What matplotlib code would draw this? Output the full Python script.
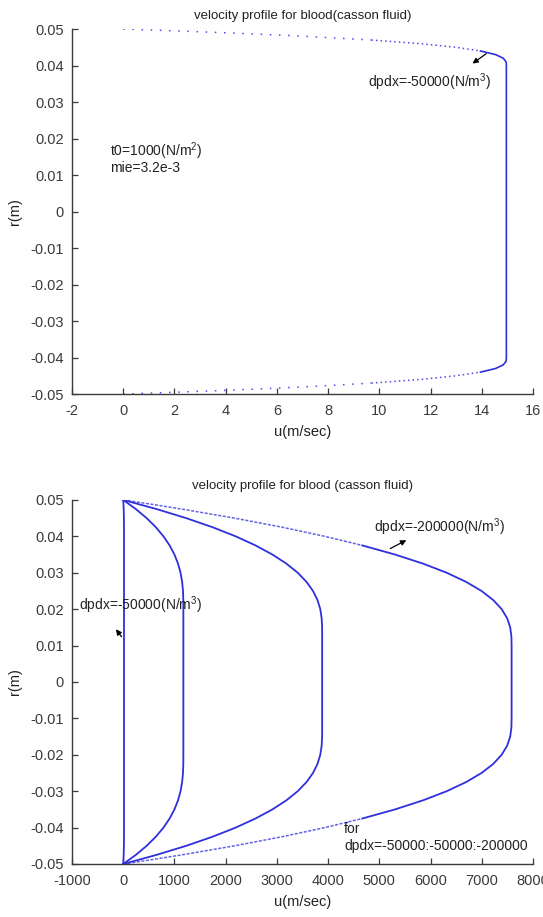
import matplotlib
matplotlib.use('Agg')
import matplotlib.pyplot as plt
import numpy as np
from matplotlib.ticker import FuncFormatter

plt.rcParams['font.family'] = ['Liberation Sans', 'DejaVu Sans']
plt.rcParams['mathtext.fontset'] = 'custom'
plt.rcParams['mathtext.rm'] = 'Liberation Sans'
plt.rcParams['axes.unicode_minus'] = False

# half profiles (r >= 0), profile is symmetric about r = 0
# dpdx = -50000
r_50k = [0.050, 0.0495, 0.049, 0.0485, 0.048, 0.047, 0.046, 0.045, 0.044, 0.043, 0.042, 0.041, 0.040]
u_50k = [0.0, 2.08, 3.96, 5.65, 7.16, 9.69, 11.61, 13.00, 13.95, 14.54, 14.84, 14.95, 14.96]
# dpdx = -100000
r_100k = [0.05, 0.0475, 0.045, 0.0425, 0.04, 0.0375, 0.035, 0.0325, 0.03, 0.0275, 0.025, 0.0225, 0.02]
u_100k = [0, 246, 458, 637, 786, 906, 1000, 1070, 1119, 1150, 1167, 1173, 1174]
# dpdx = -150000
r_150k = [0.05, 0.0475, 0.045, 0.0425, 0.04, 0.0375, 0.035, 0.0325, 0.03, 0.0275, 0.025, 0.0225, 0.02,
          0.0175, 0.015, 0.0133]
u_150k = [0, 650, 1231, 1746, 2196, 2584, 2913, 3186, 3407, 3578, 3705, 3793, 3847, 3874, 3883, 3884]
# dpdx = -200000
r_200k = [0.05, 0.049, 0.0475, 0.045, 0.0425, 0.04, 0.0375, 0.035, 0.0325, 0.03, 0.0275, 0.025, 0.0225,
          0.02, 0.0175, 0.015, 0.0125, 0.01]
u_200k = [0, 469, 1140, 2175, 3106, 3936, 4669, 5308, 5855, 6316, 6694, 6995, 7224, 7388, 7495, 7555,
          7578, 7582]

y_ticks = [0.05, 0.04, 0.03, 0.02, 0.01, 0, -0.01, -0.02, -0.03, -0.04, -0.05]
x_ticks_top = [-2, 0, 2, 4, 6, 8, 10, 12, 14, 16]
x_ticks_bot = [-1000, 0, 1000, 2000, 3000, 4000, 5000, 6000, 7000, 8000]

blue = '#2f2fdc'


def full(r, u):
    r = np.array(r, float)
    u = np.array(u, float)
    return np.concatenate([u, u[::-1]]), np.concatenate([r, -r[::-1]])


def style(ax):
    for s in ['top', 'right']:
        ax.spines[s].set_visible(False)
    for s in ['left', 'bottom']:
        ax.spines[s].set_color('#3a3a3a')
        ax.spines[s].set_linewidth(1.0)
    ax.tick_params(direction='in', length=4, width=0.9, colors='#3a3a3a', labelsize=10.5)
    ax.tick_params(axis='x', pad=7)
    ax.tick_params(axis='y', pad=6)
    ax.set_yticks(y_ticks)
    ax.set_ylim(-0.05, 0.05)
    ax.yaxis.set_major_formatter(FuncFormatter(lambda v, p: '%g' % round(v, 4)))
    ax.xaxis.set_major_formatter(FuncFormatter(lambda v, p: '%g' % v))
    ax.set_ylabel('r(m)', fontsize=10.5, color='#222', labelpad=6)
    ax.set_xlabel('u(m/sec)', fontsize=10.5, color='#222', labelpad=5)


fig = plt.figure(figsize=(5.43, 9.17), dpi=100)
ax1 = fig.add_axes([0.1326, 0.5703, 0.849, 0.398])
ax2 = fig.add_axes([0.1326, 0.0578, 0.849, 0.397])

# ---- top chart ----
r1 = np.array(r_50k)
u1 = np.array(u_50k)
far = r1 >= 0.047
mid = (r1 <= 0.047) & (r1 >= 0.044)
near = r1 <= 0.044
for sgn in [1, -1]:
    ax1.plot(u1[far], sgn * r1[far], color=blue, lw=1.1, ls=(0, (1, 5)), alpha=0.85)
    ax1.plot(u1[mid], sgn * r1[mid], color=blue, lw=1.1, ls=(0, (1, 2)), alpha=0.85)
uu, rr = full(r1[near], u1[near])
ax1.plot(uu, rr, color=blue, lw=1.2)
ax1.set_xlim(-2, 16)
ax1.set_xticks(x_ticks_top)
style(ax1)
ax1.set_title('velocity profile for blood(casson fluid)', fontsize=9.5, color='#222', pad=7)
ax1.text(9.57, 0.0355, 'dpdx=-50000(N/m$^3$)', fontsize=10, color='#222', va='center')
ax1.annotate('', xy=(13.55, 0.0401), xytext=(14.26, 0.0437),
             arrowprops=dict(arrowstyle='-|>', color='k', lw=0.9, mutation_scale=8))
ax1.text(-0.51, 0.0165, 't0=1000(N/m$^2$)', fontsize=10, color='#222', va='center')
ax1.text(-0.51, 0.0118, 'mie=3.2e-3', fontsize=10, color='#222', va='center')

# ---- bottom chart ----
for r, u in [(r_50k, u_50k), (r_100k, u_100k), (r_150k, u_150k)]:
    uu, rr = full(r, u)
    ax2.plot(uu, rr, color=blue, lw=1.3)
r4 = np.array(r_200k)
u4 = np.array(u_200k)
outer = r4 >= 0.0375
inner = r4 <= 0.0375
for sgn in [1, -1]:
    ax2.plot(u4[outer], sgn * r4[outer], color=blue, lw=1.1, ls=(0, (2, 1)), alpha=0.75)
uu, rr = full(r4[inner], u4[inner])
ax2.plot(uu, rr, color=blue, lw=1.3)
ax2.set_xlim(-1000, 8000)
ax2.set_xticks(x_ticks_bot)
style(ax2)
ax2.set_title('velocity profile for blood (casson fluid)', fontsize=9.5, color='#222', pad=8)
ax2.text(4893, 0.0426, 'dpdx=-200000(N/m$^3$)', fontsize=10, color='#222', va='center')
ax2.annotate('', xy=(5575, 0.0393), xytext=(5166, 0.0363),
             arrowprops=dict(arrowstyle='-|>', color='k', lw=0.9, mutation_scale=8))
ax2.text(-858, 0.0212, 'dpdx=-50000(N/m$^3$)', fontsize=10, color='#222', va='center')
ax2.annotate('', xy=(-175, 0.0151), xytext=(0, 0.0118),
             arrowprops=dict(arrowstyle='-|>', color='k', lw=0.9, mutation_scale=8))
ax2.text(4308, -0.0404, 'for', fontsize=10, color='#222', va='center')
ax2.text(4308, -0.0451, 'dpdx=-50000:-50000:-200000', fontsize=10, color='#222', va='center')

fig.savefig('out.png', dpi=100)
